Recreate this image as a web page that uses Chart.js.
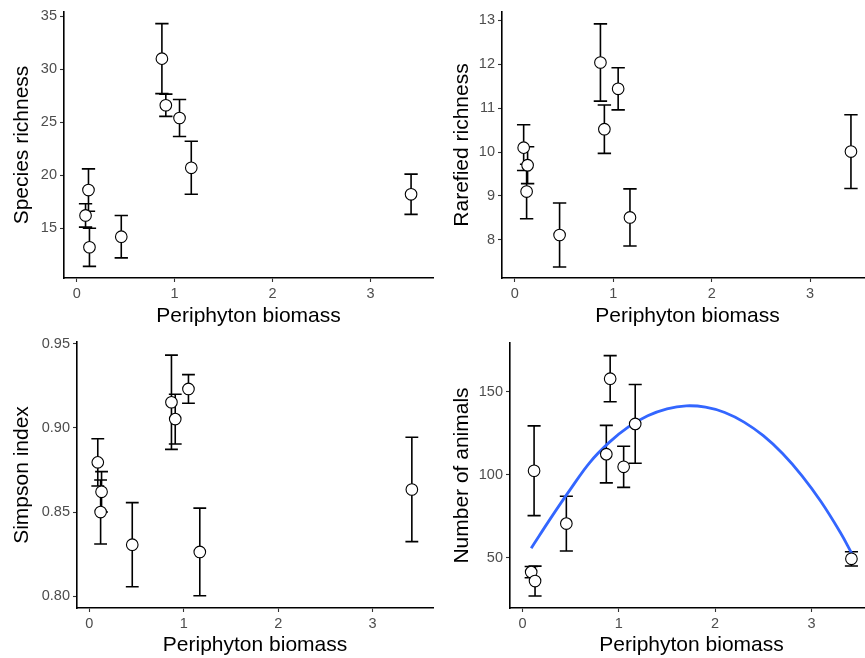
<!DOCTYPE html>
<html>
<head>
<meta charset="utf-8">
<script src="https://cdn.jsdelivr.net/npm/chart.js@4"></script>
<style>
  html, body { margin: 0; padding: 0; background: #fff; overflow: hidden; width: 865px; height: 658px; }
  canvas { position: absolute; }
</style>
</head>
<body>
<canvas id="c1" width="440" height="330" style="left:0;top:0"></canvas>
<canvas id="c2" width="440" height="330" style="left:440px;top:0"></canvas>
<canvas id="c3" width="440" height="328" style="left:0;top:330px"></canvas>
<canvas id="c4" width="440" height="328" style="left:440px;top:330px"></canvas>
<script>
// one x value per site, shared by all four panels
const biomass = [0.09, 0.12, 0.13, 0.455, 0.87, 0.91, 1.05, 1.17, 3.415];

const richness   = [16.2, 18.6, 13.2, 14.2, 31.0, 26.6, 25.4, 20.7, 18.2];
const richnessSE = [1.1, 2.0, 1.8, 2.0, 3.3, 1.05, 1.75, 2.5, 1.9];

const rarefied   = [10.1, 9.1, 9.7, 8.11, 12.04, 10.52, 11.44, 8.51, 10.01];
const rarefiedSE = [0.52, 0.62, 0.42, 0.73, 0.88, 0.55, 0.48, 0.65, 0.84];

const simpson   = [0.8795, 0.850, 0.862, 0.8306, 0.9152, 0.9052, 0.9231, 0.8263, 0.8634];
const simpsonSE = [0.014, 0.019, 0.012, 0.025, 0.028, 0.0148, 0.0085, 0.026, 0.031];

const animals   = [41.4, 102.4, 36.0, 70.6, 112.4, 157.8, 104.8, 130.6, 49.4];
const animalsSE = [3.4, 27.0, 9.0, 16.5, 17.3, 13.9, 12.4, 23.7, 4.3];

// fitted curve in the animals panel
const fitX = [0.09, 0.3, 0.5, 0.7, 0.9, 1.1, 1.3, 1.5, 1.7, 1.9, 2.1, 2.3, 2.5, 2.7, 2.9, 3.1, 3.3, 3.42];
const fitY = [55.8, 74.5, 91.5, 107.5, 119.5, 128.8, 135.5, 139.7, 141.5, 140.7, 137.5, 131.7, 123.5, 112.8, 99.5, 83.7, 65.2, 52.5];

const xTicks = [0, 1, 2, 3];
const richnessTicks = [15, 20, 25, 30, 35];
const rarefiedTicks = [8, 9, 10, 11, 12, 13];
const simpsonTicks = [0.80, 0.85, 0.90, 0.95];
const animalTicks = [50, 100, 150];

const FONT = "'Liberation Sans', Arial, sans-serif";
const capHalf = 0.068;

const errorBars = {
  id: 'errorBars',
  beforeDatasetsDraw(chart) {
    const { ctx, scales: { x, y } } = chart;
    chart.data.datasets.forEach(ds => {
      if (!ds.errors) return;
      ctx.save();
      ctx.strokeStyle = '#000';
      ctx.lineWidth = 1.6;
      ds.data.forEach((p, i) => {
        const px = x.getPixelForValue(p.x);
        const lo = y.getPixelForValue(p.y - ds.errors[i]);
        const hi = y.getPixelForValue(p.y + ds.errors[i]);
        const l = x.getPixelForValue(p.x - capHalf);
        const r = x.getPixelForValue(p.x + capHalf);
        ctx.beginPath();
        ctx.moveTo(px, lo); ctx.lineTo(px, hi);
        ctx.moveTo(l, lo); ctx.lineTo(r, lo);
        ctx.moveTo(l, hi); ctx.lineTo(r, hi);
        ctx.stroke();
      });
      ctx.restore();
    });
  }
};

function axisStyle() {
  return {
    grid: { display: true, drawOnChartArea: false, drawTicks: true, tickLength: 4, tickWidth: 1.1, tickColor: '#333' },
    border: { display: true, color: '#000', width: 1.6 },
  };
}

function panel(id, p) {
  const datasets = [{
    type: 'scatter',
    data: biomass.map((b, i) => ({ x: b, y: p.values[i] })),
    errors: p.se,
    pointRadius: 5.8,
    pointHoverRadius: 5.8,
    pointBackgroundColor: '#fff',
    pointBorderColor: '#000',
    pointBorderWidth: 1.1,
    order: 1,
  }];
  if (p.fit) {
    datasets.push({
      type: 'line',
      data: fitX.map((x, i) => ({ x: x, y: fitY[i] })),
      borderColor: '#3366FF',
      borderWidth: 2.8,
      pointRadius: 0,
      tension: 0.4,
      fill: false,
      order: 2,
    });
  }

  new Chart(document.getElementById(id), {
    type: 'scatter',
    data: { datasets },
    options: {
      responsive: false,
      animation: false,
      layout: { padding: { top: p.padTop, right: p.padRight, left: 0, bottom: 0 } },
      plugins: { legend: { display: false }, tooltip: { enabled: false } },
      scales: {
        x: {
          type: 'linear',
          min: -0.13,
          max: 3.64,
          ...axisStyle(),
          afterBuildTicks: a => { a.ticks = xTicks.map(v => ({ value: v })); },
          afterFit: a => { a.height = p.xHeight; a.paddingLeft = 0; a.paddingRight = 0; },
          ticks: { font: { family: FONT, size: 14.5 }, color: '#4D4D4D', padding: 3, maxRotation: 0 },
          title: { display: true, text: 'Periphyton biomass', color: '#000', font: { family: FONT, size: 21 }, padding: { top: 0, bottom: p.xTitlePad } },
        },
        y: {
          type: 'linear',
          min: p.yMin,
          max: p.yMax,
          ...axisStyle(),
          afterBuildTicks: a => { a.ticks = p.ticks.map(v => ({ value: v })); },
          afterFit: a => { a.width = p.yWidth; a.paddingTop = 0; a.paddingBottom = 0; },
          ticks: { font: { family: FONT, size: 14.5 }, color: '#4D4D4D', padding: 3, callback: p.fmt },
          title: { display: true, text: p.title, color: '#000', font: { family: FONT, size: 21 }, padding: { top: p.titlePad, bottom: 0 } },
        },
      },
    },
    plugins: [errorBars],
  });
}

panel('c1', { values: richness, se: richnessSE, ticks: richnessTicks, yMin: 10.3, yMax: 35.4,
  title: 'Species richness', yWidth: 64, padTop: 12, padRight: 4, xHeight: 52, titlePad: 10, xTitlePad: 1.5, fmt: v => String(v) });
panel('c2', { values: rarefied, se: rarefiedSE, ticks: rarefiedTicks, yMin: 7.13, yMax: 13.19,
  title: 'Rarefied richness', yWidth: 62, padTop: 12, padRight: 5, xHeight: 52, titlePad: 10, xTitlePad: 1.5, fmt: v => String(v) });
panel('c3', { values: simpson, se: simpsonSE, ticks: simpsonTicks, yMin: 0.793, yMax: 0.951,
  title: 'Simpson index', yWidth: 77, padTop: 12, padRight: 4, xHeight: 50, titlePad: 10, xTitlePad: 0.5, fmt: v => v.toFixed(2) });
panel('c4', { values: animals, se: animalsSE, ticks: animalTicks, yMin: 19.8, yMax: 179.3, fit: true,
  title: 'Number of animals', yWidth: 70, padTop: 13, padRight: 3, xHeight: 50, titlePad: 10, xTitlePad: 0.5, fmt: v => String(v) });
</script>
</body>
</html>
